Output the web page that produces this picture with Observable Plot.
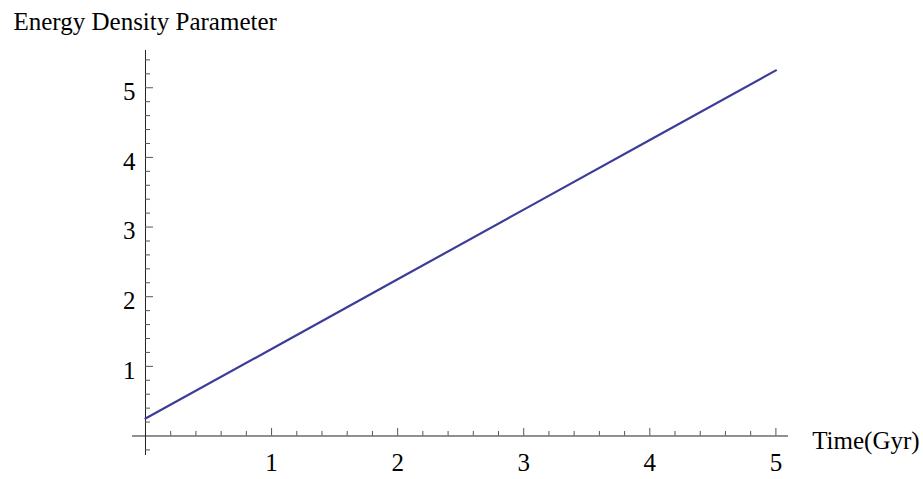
<!DOCTYPE html>
<html>
<head>
<meta charset="utf-8">
<script src="https://cdn.jsdelivr.net/npm/d3@7"></script>
<script src="https://cdn.jsdelivr.net/npm/@observablehq/plot@0.6"></script>
<style>
  html, body { margin: 0; padding: 0; background: #fff; }
  #chart svg { display: block; }
</style>
</head>
<body>
<div id="chart"></div>
<script>
// Data
const time = [0, 1, 2, 3, 4, 5];
const omega = [0.25, 1.25, 2.25, 3.25, 4.25, 5.25];

// Tick labels / positions
const xMajor = [1, 2, 3, 4, 5];
const xMinor = [0.2, 0.4, 0.6, 0.8, 1.2, 1.4, 1.6, 1.8, 2.2, 2.4, 2.6, 2.8, 3.2, 3.4, 3.6, 3.8, 4.2, 4.4, 4.6, 4.8];
const yMajor = [1, 2, 3, 4, 5];
const yMinor = [-0.2, 0.2, 0.4, 0.6, 0.8, 1.2, 1.4, 1.6, 1.8, 2.2, 2.4, 2.6, 2.8, 3.2, 3.4, 3.6, 3.8, 4.2, 4.4, 4.6, 4.8, 5.2, 5.4];

const title = "Energy Density Parameter";
const xLabel = "Time(Gyr)";

const series = time.map((t, i) => ({t, v: omega[i]}));

const font = "Liberation Serif, Times New Roman, serif";
const axisColor = "#222";
const tickColor = "#555";
const fs = 25;

const chart = Plot.plot({
  width: 923,
  height: 479,
  marginLeft: 132,
  marginRight: 135,
  marginTop: 50,
  marginBottom: 24,
  style: {fontFamily: font, background: "#fff"},
  x: {domain: [-0.103, 5.1], axis: null},
  y: {domain: [-0.28, 5.535], axis: null},
  marks: [
    // axis lines
    Plot.ruleY([0], {stroke: axisColor, strokeWidth: 1}),
    Plot.ruleX([0], {stroke: axisColor, strokeWidth: 1}),
    // x ticks (pointing up)
    Plot.ruleX(xMajor, {x: d => d, y1: () => 0, y2: () => 0, insetTop: -7.5, stroke: tickColor}),
    Plot.ruleX(xMinor, {x: d => d, y1: () => 0, y2: () => 0, insetTop: -4.5, stroke: tickColor}),
    // y ticks (pointing right)
    Plot.ruleY(yMajor, {y: d => d, x1: () => 0, x2: () => 0, insetRight: -8, stroke: tickColor}),
    Plot.ruleY(yMinor, {y: d => d, x1: () => 0, x2: () => 0, insetRight: -5, stroke: tickColor}),
    // tick labels
    Plot.text(xMajor, {x: d => d, y: () => 0, text: d => String(d), dy: 35.4, lineAnchor: "bottom", textAnchor: "middle", fontSize: fs, fill: "#000"}),
    Plot.text(yMajor, {x: () => 0, y: d => d, text: d => String(d), dx: -10, dy: 12.3, lineAnchor: "bottom", textAnchor: "end", fontSize: fs, fill: "#000"}),
    // the curve
    Plot.line(series, {x: "t", y: "v", stroke: "#3d3d99", strokeWidth: 2.2}),
    // axis titles
    Plot.text([title], {frameAnchor: "top-left", dx: -119, dy: -20.7, lineAnchor: "bottom", textAnchor: "start", fontSize: fs, fill: "#000"}),
    Plot.text([xLabel], {frameAnchor: "bottom-right", dx: 23.7, dy: -6.7, lineAnchor: "bottom", textAnchor: "start", fontSize: fs, fill: "#000"})
  ]
});

document.getElementById("chart").appendChild(chart);
</script>
</body>
</html>
